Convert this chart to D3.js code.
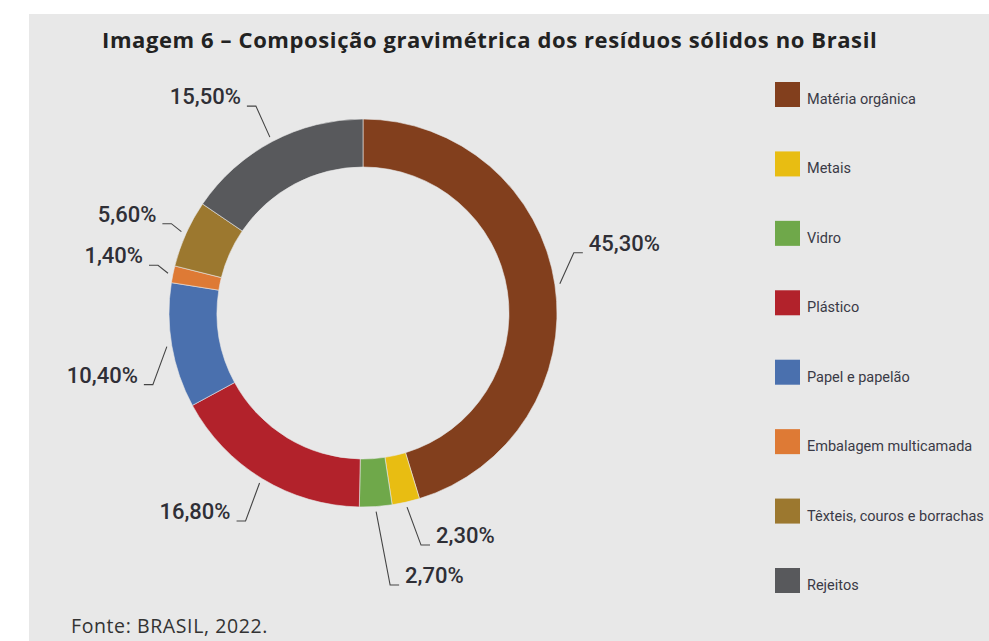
<!DOCTYPE html>
<html>
<head>
<meta charset="utf-8">
<script src="https://cdn.jsdelivr.net/npm/d3@7"></script>
<style>
  body { margin: 0; background: #fff; }
  svg { display: block; }
</style>
</head>
<body>
<div id="chart"></div>
<script>
// Composição gravimétrica dos resíduos sólidos (donut with leader labels)

const categories = [
  "Matéria orgânica", "Metais", "Vidro", "Plástico",
  "Papel e papelão", "Embalagem multicamada",
  "Têxteis, couros e borrachas", "Rejeitos"
];
const values = [45.3, 2.3, 2.7, 16.8, 10.4, 1.4, 5.6, 15.5];
const colors = [
  "#823f1d", "#e8bd12", "#6fa84a", "#b2222b",
  "#4a70ae", "#de7a35", "#9c782f", "#58595c"
];

const W = 989, H = 641;
const cx = 363, cy = 313, rOuter = 194, rInner = 146;

const ptBR = d3.formatLocale({ decimal: ",", thousands: ".", grouping: [3], currency: ["R$", ""] });
const fmt = ptBR.format(".2f");

const data = categories.map((c, i) => ({ name: c, value: values[i], color: colors[i] }));

const svg = d3.select("#chart").append("svg")
  .attr("width", W)
  .attr("height", H);

// gray panel
svg.append("rect")
  .attr("x", 29).attr("y", 14)
  .attr("width", W - 29).attr("height", H - 14)
  .attr("fill", "#e8e8e8");

svg.append("text")
  .attr("x", 102).attr("y", 48)
  .attr("font-family", "'Open Sans', sans-serif")
  .attr("font-weight", 700)
  .attr("font-size", 22)
  .attr("letter-spacing", 0.6)
  .attr("fill", "#222")
  .text("Imagem 6 – Composição gravimétrica dos resíduos sólidos no Brasil");

svg.append("text")
  .attr("x", 71).attr("y", 633)
  .attr("font-family", "'Open Sans', sans-serif")
  .attr("font-size", 19.5)
  .attr("letter-spacing", 0.6)
  .attr("fill", "#333")
  .text("Fonte: BRASIL, 2022.");

const pie = d3.pie().sort(null).value(d => d.value);
const arcs = pie(data);
const arc = d3.arc().innerRadius(rInner).outerRadius(rOuter);

const g = svg.append("g").attr("transform", `translate(${cx},${cy})`);

g.selectAll("path.slice")
  .data(arcs)
  .enter()
  .append("path")
  .attr("class", "slice")
  .attr("d", arc)
  .attr("fill", d => d.data.color)
  .attr("stroke", "#e8e8e8")
  .attr("stroke-width", 0.6);

// leader lines: start on the outer edge at mid angle, then elbow, then short horizontal
const r0 = rOuter + 5;
const labels = arcs.map(d => {
  const a = (d.startAngle + d.endAngle) / 2;
  const s = Math.sin(a), c = Math.cos(a);
  const side = s >= 0 ? 1 : -1;
  const p0 = [r0 * s, -r0 * c];
  let ex, ey;
  if (side < 0 && c > 0 && Math.abs(s) > 0.9) {
    // near horizontal, upper left: short diagonal
    ex = p0[0] + side * 10;
    ey = p0[1] - 8;
  } else {
    ex = p0[0] + side * 14;
    ey = p0[1] + (c > 0 ? -31 : 38);
  }
  return { d, side, p0, ex, ey };
});

// push apart labels at the bottom right that would overlap
const bottomRight = labels.filter(l => l.side > 0 && l.ey > 0).sort((a, b) => a.ey - b.ey);
for (let i = 1; i < bottomRight.length; i++) {
  if (bottomRight[i].ey - bottomRight[i - 1].ey < 40) bottomRight[i].ey = bottomRight[i - 1].ey + 40;
}

const hLen = 9, gap = 6;

g.selectAll("path.leader")
  .data(labels)
  .enter()
  .append("path")
  .attr("class", "leader")
  .attr("fill", "none")
  .attr("stroke", "#444")
  .attr("stroke-width", 1.1)
  .attr("d", l => d3.line()([l.p0, [l.ex, l.ey], [l.ex + l.side * hLen, l.ey]]));

g.selectAll("text.pct")
  .data(labels)
  .enter()
  .append("text")
  .attr("class", "pct")
  .attr("x", l => l.ex + l.side * (hLen + gap))
  .attr("y", l => l.ey - 2)
  .attr("text-anchor", l => l.side > 0 ? "start" : "end")
  .attr("font-family", "Roboto, sans-serif")
  .attr("font-weight", 500)
  .attr("font-size", 22)
  .attr("fill", "#2f2f36")
  .text(l => fmt(l.d.value) + "%");

// legend
const yLeg = d3.scalePoint().domain(categories).range([82, 568]);

const leg = svg.append("g")
  .selectAll("g")
  .data(data)
  .enter()
  .append("g")
  .attr("transform", d => `translate(775,${yLeg(d.name)})`);

leg.append("rect")
  .attr("width", 25)
  .attr("height", 25)
  .attr("fill", d => d.color);

leg.append("text")
  .attr("x", 32)
  .attr("y", 22)
  .attr("font-family", "Roboto, sans-serif")
  .attr("font-size", 14.5)
  .attr("fill", "#3a3a46")
  .text(d => d.name);
</script>
</body>
</html>
